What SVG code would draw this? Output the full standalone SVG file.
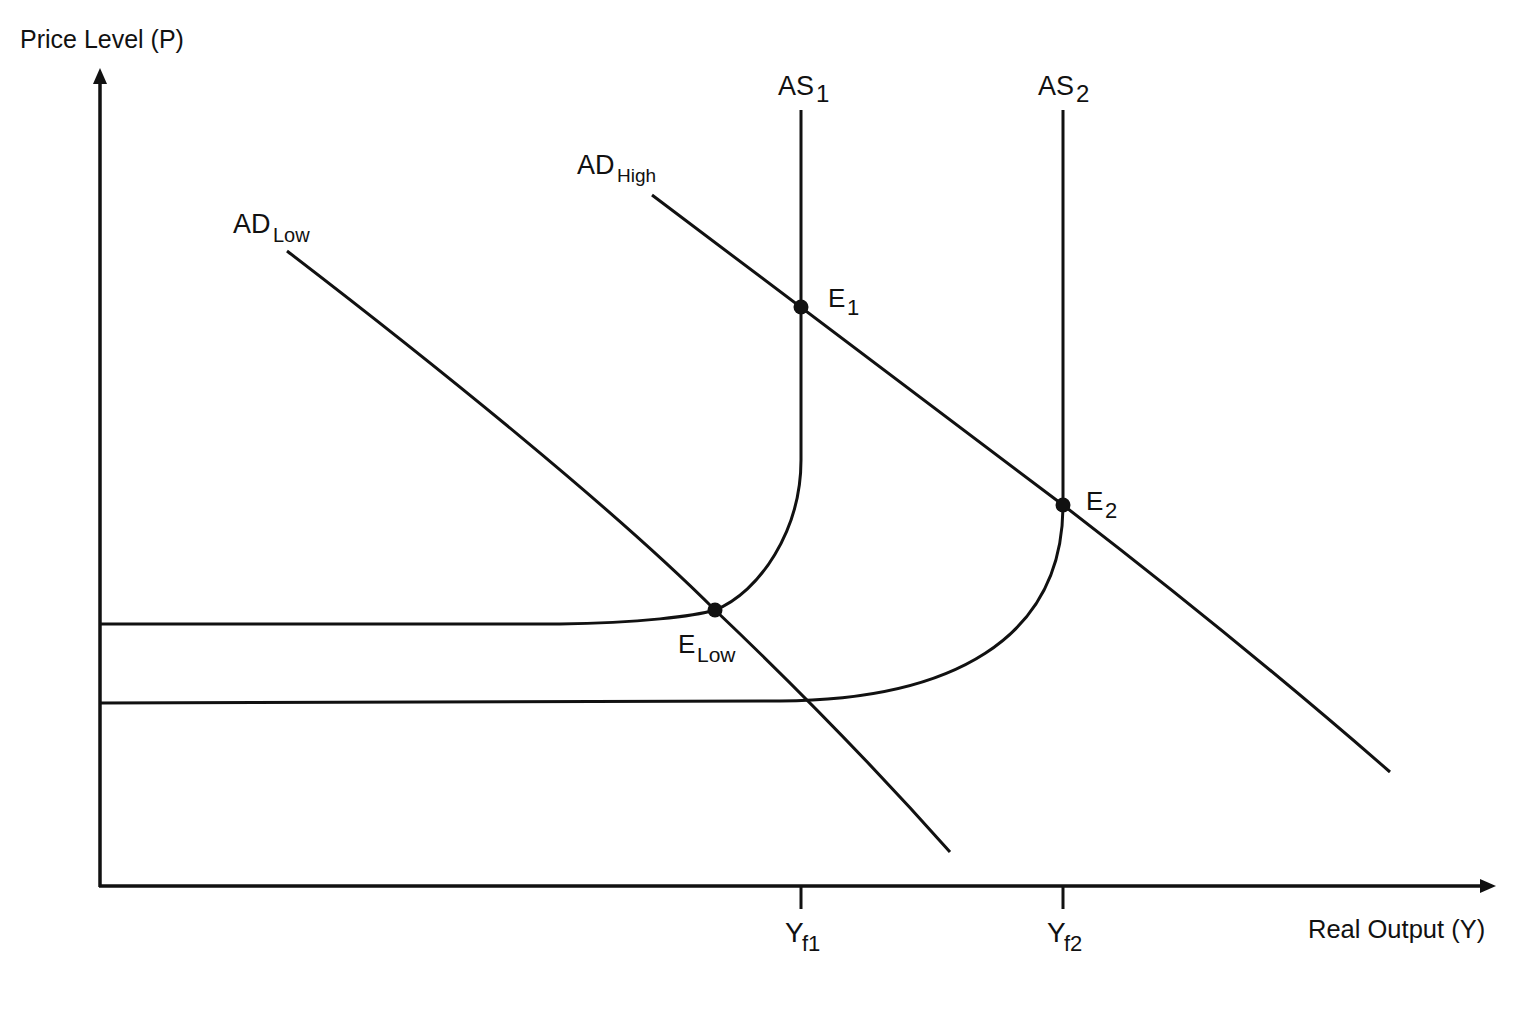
<svg xmlns="http://www.w3.org/2000/svg" width="1536" height="1024" viewBox="0 0 1536 1024">
<style>
  .ln { fill: none; stroke: #111; stroke-width: 3; stroke-linecap: butt; stroke-linejoin: round; }
  .ax { fill: none; stroke: #111; stroke-width: 3.5; }
  .t { font-family: "Liberation Sans", Arial, sans-serif; fill: #111; }
  .dot { fill: #111; }
</style>
<defs>
  <marker id="arr" viewBox="0 0 16 14" refX="0" refY="7" markerWidth="16" markerHeight="14" markerUnits="userSpaceOnUse" orient="auto">
    <path d="M0,0 L16,7 L0,14 Z" fill="#111"/>
  </marker>
</defs>
<rect width="1536" height="1024" fill="#fff"/>

<g id="axes">
  <path class="ax" d="M100,887 L100,84" marker-end="url(#arr)"/>
  <path class="ax" d="M99,886 L1480,886" marker-end="url(#arr)"/>
  <line class="ln" x1="801" y1="886" x2="801" y2="909"/>
  <line class="ln" x1="1063" y1="886" x2="1063" y2="909"/>
</g>

<g id="connectors">
  <path id="as1-curve" class="ln" d="M801,110 L801,460 C801,530 760,592 715,610 C695,616 640,623 560,624 L100,624"/>
  <path id="as2-curve" class="ln" d="M1063,110 L1063,505 C1063,640 950,700 780,701 L100,703"/>
  <path id="adhigh-curve" class="ln" d="M652,195 L1063,505 C1150,572 1280,676 1390,772"/>
  <path id="adlow-curve" class="ln" d="M287,251 C437,366 615,510 715,610 C795,686 870,762 950,852"/>
</g>

<g id="point-e1"><circle class="dot" cx="801" cy="307" r="7.5"/>
  <text class="t"><tspan x="828" y="307" font-size="26">E</tspan><tspan x="847" y="315" font-size="22">1</tspan></text></g>
<g id="point-e2"><circle class="dot" cx="1063" cy="505" r="7.5"/>
  <text class="t"><tspan x="1086" y="510" font-size="26">E</tspan><tspan x="1105" y="518" font-size="22">2</tspan></text></g>
<g id="point-elow"><circle class="dot" cx="715" cy="610" r="7.5"/>
  <text class="t"><tspan x="678" y="653" font-size="26">E</tspan><tspan x="697" y="662" font-size="21">Low</tspan></text></g>

<g id="label-as1"><text class="t"><tspan x="778" y="95" font-size="27">AS</tspan><tspan x="816" y="102" font-size="24">1</tspan></text></g>
<g id="label-as2"><text class="t"><tspan x="1038" y="95" font-size="27">AS</tspan><tspan x="1076" y="102" font-size="24">2</tspan></text></g>
<g id="label-adhigh"><text class="t"><tspan x="577" y="174" font-size="27">AD</tspan><tspan x="617" y="182" font-size="19">High</tspan></text></g>
<g id="label-adlow"><text class="t"><tspan x="233" y="233" font-size="27">AD</tspan><tspan x="273" y="242" font-size="20">Low</tspan></text></g>

<g id="label-yf1"><text class="t"><tspan x="785" y="942" font-size="28">Y</tspan><tspan x="802" y="951" font-size="22">f1</tspan></text></g>
<g id="label-yf2"><text class="t"><tspan x="1047" y="942" font-size="28">Y</tspan><tspan x="1064" y="951" font-size="22">f2</tspan></text></g>

<g id="axis-title-y"><text class="t" x="20" y="48" font-size="25">Price Level (P)</text></g>
<g id="axis-title-x"><text class="t" x="1308" y="938" font-size="25.5">Real Output (Y)</text></g>
</svg>
